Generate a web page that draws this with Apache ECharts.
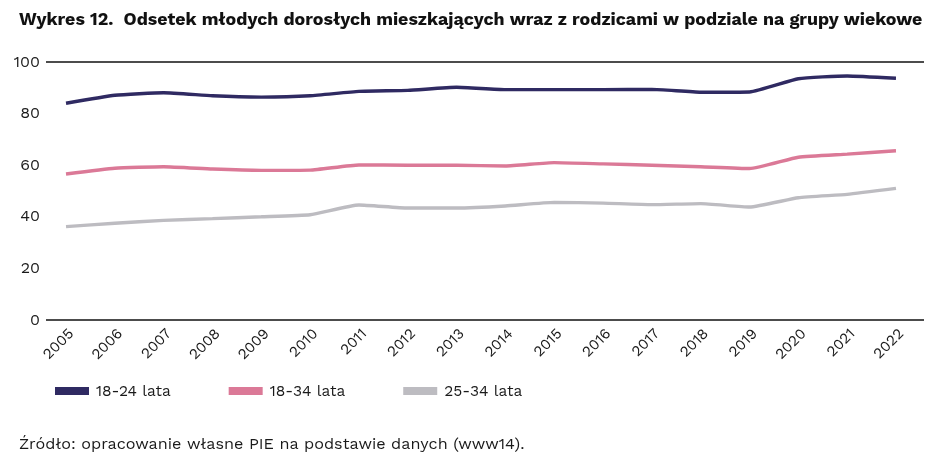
<!DOCTYPE html>
<html>
<head>
<meta charset="utf-8">
<script src="https://cdn.jsdelivr.net/npm/echarts@6.0.0/dist/echarts.min.js"></script>
<style>
  html, body { margin: 0; padding: 0; background: #ffffff; }
  #chart { width: 952px; height: 457px; }
</style>
</head>
<body>
<div id="chart"></div>
<script>
// dane
const years = [2005, 2006, 2007, 2008, 2009, 2010, 2011, 2012, 2013, 2014, 2015, 2016, 2017, 2018, 2019, 2020, 2021, 2022]
const seriesNames = ['18-24 lata', '18-34 lata', '25-34 lata']
const age1824 = [84.0, 87.1, 88.1, 86.9, 86.4, 86.9, 88.6, 89.0, 90.2, 89.3, 89.3, 89.3, 89.4, 88.3, 88.4, 93.5, 94.6, 93.7]
const age1834 = [56.6, 58.8, 59.4, 58.5, 58.0, 58.1, 60.1, 60.0, 60.0, 59.7, 61.0, 60.5, 60.0, 59.4, 58.7, 63.1, 64.3, 65.6]
const age2534 = [36.2, 37.5, 38.6, 39.3, 40.0, 40.8, 44.6, 43.4, 43.4, 44.2, 45.6, 45.3, 44.7, 45.1, 43.8, 47.4, 48.7, 51.0]
const yTicks = [0, 20, 40, 60, 80, 100]

const colors = ['#2f2a62', '#db7997', '#bdbcc1']
const fontFamily = '"Work Sans", Inter, "Open Sans", sans-serif'

const chart = echarts.init(document.getElementById('chart'))

const toPairs = values => years.map((y, i) => [y, values[i]])

const option = {
  backgroundColor: '#ffffff',
  animation: false,
  title: [
    {
      text: 'Wykres 12.  Odsetek młodych dorosłych mieszkających wraz z rodzicami w podziale na grupy wiekowe',
      left: 14,
      top: 6,
      textStyle: { color: '#111111', fontSize: 17.8, fontWeight: 'bold', fontFamily: fontFamily }
    },
    {
      text: 'Źródło: opracowanie własne PIE na podstawie danych (www14).',
      left: 14,
      top: 431,
      textStyle: { color: '#1a1a1a', fontSize: 16.2, fontWeight: 'normal', fontFamily: fontFamily }
    }
  ],
  legend: {
    data: seriesNames,
    left: 55,
    top: 383,
    padding: 0,
    itemWidth: 34,
    itemHeight: 8,
    itemGap: 58,
    icon: 'rect',
    textStyle: { color: '#1a1a1a', fontSize: 15.5, fontFamily: fontFamily, padding: [0, 0, 0, 2] }
  },
  grid: {
    left: 46,
    right: 28,
    top: 62,
    bottom: 137,
    containLabel: false
  },
  xAxis: {
    type: 'value',
    min: 2005 - 20 / 48.8,
    max: 2022 + 28 / 48.8,
    axisLine: { show: false },
    axisTick: { show: false },
    splitLine: { show: false },
    axisLabel: {
      customValues: years,
      rotate: 45,
      verticalAlign: 'top',
      color: '#1a1a1a',
      fontSize: 15,
      fontFamily: fontFamily,
      margin: 6,
      formatter: v => String(v)
    }
  },
  yAxis: {
    type: 'value',
    min: 0,
    max: 100,
    interval: 20,
    axisLine: { show: false },
    axisTick: { show: false },
    axisLabel: {
      color: '#1a1a1a',
      fontSize: 16,
      fontFamily: fontFamily,
      margin: 6,
      formatter: v => yTicks.includes(v) ? String(v) : ''
    },
    splitLine: {
      show: true,
      lineStyle: { color: ['#111111', 'transparent', 'transparent', 'transparent', 'transparent', '#111111'], width: 1.5 }
    }
  },
  series: [age1824, age1834, age2534].map((values, i) => ({
    name: seriesNames[i],
    type: 'line',
    data: toPairs(values),
    smooth: 0.15,
    showSymbol: false,
    symbol: 'none',
    lineStyle: { color: colors[i], width: 3.4 },
    itemStyle: { color: colors[i] },
    z: 3 - i
  }))
}

chart.setOption(option)
</script>
</body>
</html>
